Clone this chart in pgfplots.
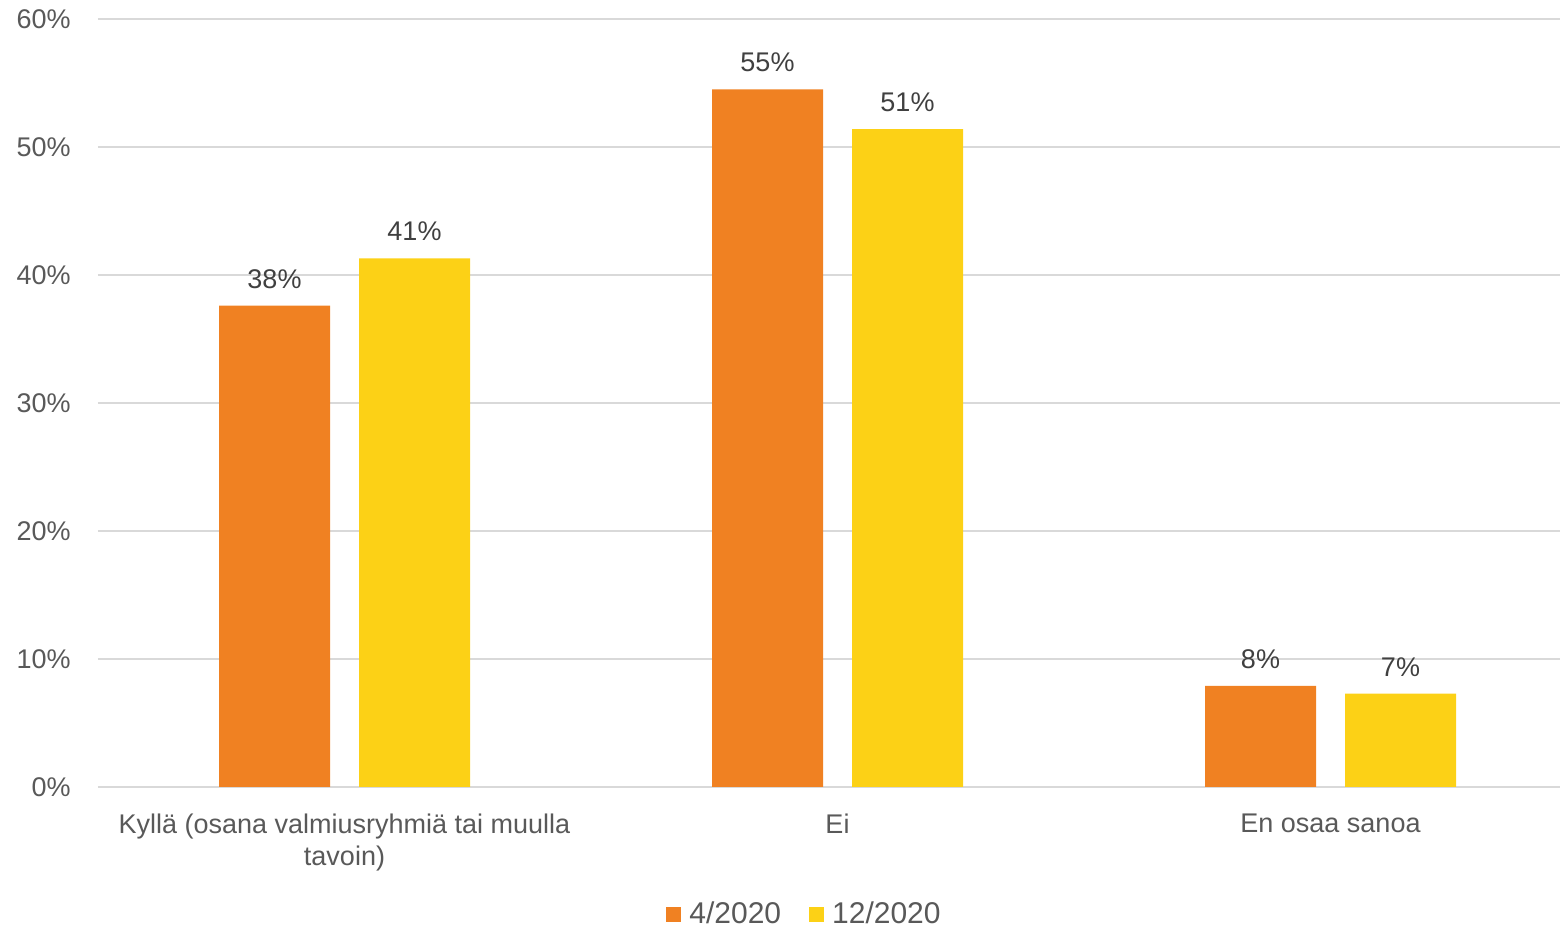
\documentclass[border=0pt]{standalone}
\usepackage{fontspec}
\setmainfont{Liberation Sans}
\usepackage{pgfplots}
\pgfplotsset{compat=1.18}
\definecolor{orangeA}{HTML}{F08122}
\definecolor{yellowA}{HTML}{FCD116}
\definecolor{gridc}{HTML}{D9D9D9}
\definecolor{txt}{HTML}{595959}
\definecolor{lbl}{HTML}{404040}
\begin{document}
\fontsize{13.5}{16}\selectfont
\begin{tikzpicture}
\begin{axis}[
  at={(49pt,70pt)}, anchor=south west,
  scale only axis, width=739.5pt, height=384pt,
  xmin=-0.5, xmax=2.5, ymin=0, ymax=60,
  axis line style={draw=none},
  xtick={0,1,2},
  xticklabels={{Kyllä (osana valmiusryhmiä tai muulla\\tavoin)},{Ei},{En osaa sanoa}},
  xticklabel style={align=center, anchor=north, yshift=-9pt, text=txt, font=\fontsize{13.5}{16}\selectfont},
  ytick={0,10,...,60},
  yticklabel={\pgfmathprintnumber{\tick}\%},
  yticklabel style={anchor=east, xshift=-9pt, text=txt, font=\fontsize{13.5}{16}\selectfont},
  /pgf/number format/assume math mode=true,
  major tick length=0pt,
  ymajorgrids, grid style={gridc, line width=0.8pt},
  ybar, bar width=55.5pt,
  nodes near coords={\pgfmathprintnumber[fixed,precision=0]{\pgfplotspointmeta}\%},
  nodes near coords style={text=lbl, font=\fontsize{13.5}{16}\selectfont, yshift=4pt},
  legend style={draw=none, at={(0.477,-0.166)}, anchor=center, legend columns=2,
    font=\fontsize{15}{16}\selectfont, text=txt, inner sep=0pt,
    /tikz/every odd column/.append style={column sep=0pt},
    /tikz/every even column/.append style={column sep=14pt},
    nodes={inner sep=0pt, xshift=0pt}},
  legend image code/.code={\fill[#1] (0pt,-3.75pt) rectangle (7.5pt,3.75pt); \path (11.5pt,0);},
  clip=false,
]
\addplot[fill=orangeA, draw=none, bar shift=-35pt] coordinates {(0,37.6) (1,54.5) (2,7.9)};
\addplot[fill=yellowA, draw=none, bar shift=35pt] coordinates {(0,41.3) (1,51.4) (2,7.3)};
\legend{4/2020,12/2020}
\end{axis}
\pgfresetboundingbox
\useasboundingbox (0,0) rectangle (780pt,463.5pt);
\end{tikzpicture}
\end{document}
